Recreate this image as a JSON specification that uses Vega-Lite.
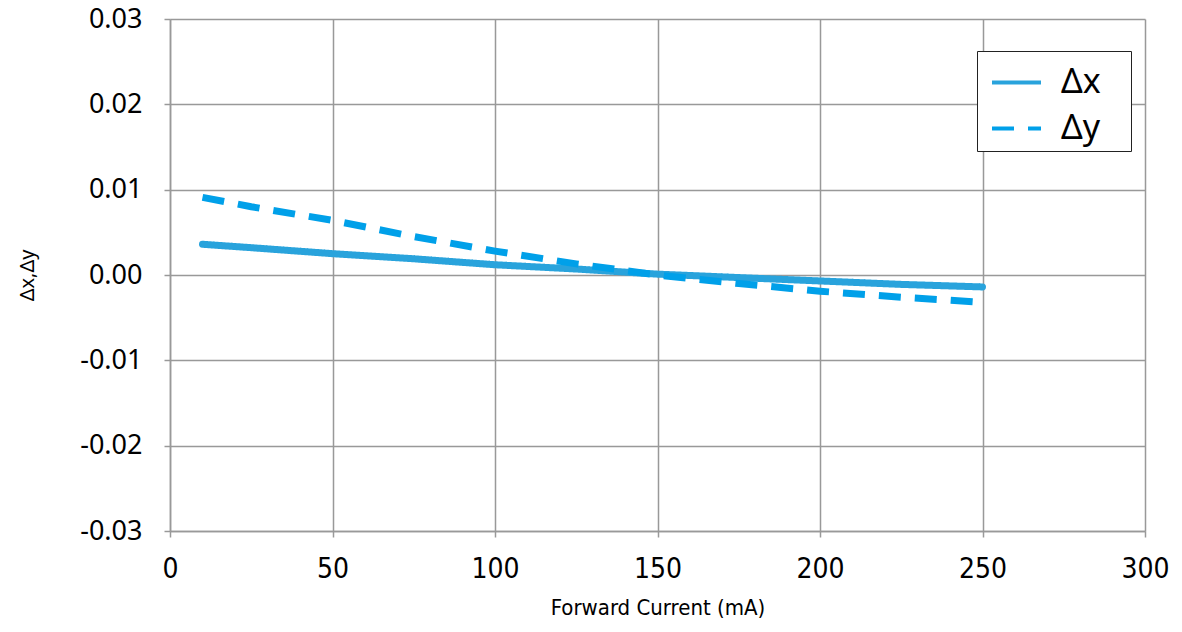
{
  "$schema": "https://vega.github.io/schema/vega-lite/v6.json",
  "autosize": "none",
  "width": 975,
  "height": 512,
  "padding": {"left": 170, "top": 19, "right": 37, "bottom": 101},
  "background": "white",
  "config": {"view": {"stroke": null}},
  "data": {"values": [
    {"current": 10, "value": 0.0036, "series": "Δx"},
    {"current": 25, "value": 0.0032, "series": "Δx"},
    {"current": 50, "value": 0.0025, "series": "Δx"},
    {"current": 75, "value": 0.0019, "series": "Δx"},
    {"current": 100, "value": 0.0012, "series": "Δx"},
    {"current": 125, "value": 0.0007, "series": "Δx"},
    {"current": 150, "value": 0.0001, "series": "Δx"},
    {"current": 175, "value": -0.0003, "series": "Δx"},
    {"current": 200, "value": -0.0007, "series": "Δx"},
    {"current": 225, "value": -0.0011, "series": "Δx"},
    {"current": 250, "value": -0.0014, "series": "Δx"},
    {"current": 10, "value": 0.0091, "series": "Δy"},
    {"current": 25, "value": 0.0080, "series": "Δy"},
    {"current": 50, "value": 0.0064, "series": "Δy"},
    {"current": 75, "value": 0.0045, "series": "Δy"},
    {"current": 100, "value": 0.0028, "series": "Δy"},
    {"current": 125, "value": 0.0013, "series": "Δy"},
    {"current": 150, "value": 0.0000, "series": "Δy"},
    {"current": 175, "value": -0.0010, "series": "Δy"},
    {"current": 200, "value": -0.0019, "series": "Δy"},
    {"current": 225, "value": -0.0026, "series": "Δy"},
    {"current": 250, "value": -0.0032, "series": "Δy"}
  ]},
  "encoding": {
    "x": {
      "field": "current", "type": "quantitative",
      "scale": {"domain": [0, 300], "nice": false, "zero": false},
      "axis": {
        "values": [0, 50, 100, 150, 200, 250, 300],
        "title": "Forward Current (mA)",
        "titleFont": "DejaVu Sans Condensed, Noto Sans", "titleFontSize": 22, "titleFontWeight": "normal", "titleColor": "#000",
        "titlePadding": 14,
        "labelFont": "DejaVu Sans Condensed, Noto Sans", "labelFontSize": 28, "labelColor": "#000", "labelPadding": 18,
        "labelFlush": false,
        "grid": true, "gridColor": "#999", "gridWidth": 1.5,
        "domainColor": "#999", "domainWidth": 1.5,
        "tickColor": "#999", "tickSize": 6, "tickWidth": 1.5
      }
    },
    "y": {
      "field": "value", "type": "quantitative",
      "scale": {"domain": [-0.03, 0.03], "nice": false, "zero": false},
      "axis": {
        "values": [-0.03, -0.02, -0.01, 0, 0.01, 0.02, 0.03],
        "labelExpr": "(datum.value < -0.000001 ? '-' : '') + format(abs(datum.value), '.2f')",
        "title": "Δx,Δy",
        "titleFont": "Noto Sans", "titleFontSize": 20, "titleFontWeight": "normal", "titleColor": "#000",
        "titlePadding": 42,
        "labelFont": "Noto Sans", "labelFontSize": 27, "labelColor": "#000", "labelPadding": 22,
        "labelFlush": false,
        "grid": true, "gridColor": "#999", "gridWidth": 1.5,
        "domainColor": "#999", "domainWidth": 1.5,
        "tickColor": "#999", "tickSize": 6, "tickWidth": 1.5
      }
    },
    "color": {
      "field": "series", "type": "nominal",
      "scale": {"domain": ["Δx", "Δy"], "range": ["#29a3dc", "#00a0e9"]},
      "legend": {
        "title": null, "orient": "none", "legendX": 807, "legendY": 32,
        "symbolType": "stroke", "symbolSize": 2400, "symbolStrokeWidth": 4, "symbolOffset": 8,
        "labelFont": "Noto Sans", "labelFontSize": 34, "labelColor": "#000",
        "labelExpr": "datum.label + '\u2800'",
        "labelOffset": 18, "rowPadding": 2,
        "fillColor": "white", "strokeColor": "#222", "padding": 5
      }
    },
    "strokeDash": {
      "field": "series", "type": "nominal",
      "scale": {"domain": ["Δx", "Δy"], "range": [[1, 0], [22, 14]]},
      "legend": {
        "title": null, "orient": "none", "legendX": 807, "legendY": 32,
        "symbolType": "stroke", "symbolSize": 2400, "symbolStrokeWidth": 4, "symbolOffset": 8,
        "labelFont": "Noto Sans", "labelFontSize": 34, "labelColor": "#000",
        "labelExpr": "datum.label + '\u2800'",
        "labelOffset": 18, "rowPadding": 2,
        "fillColor": "white", "strokeColor": "#222", "padding": 5
      }
    }
  },
  "layer": [
    {
      "transform": [{"filter": "datum.series === 'Δx'"}],
      "mark": {"type": "line", "strokeWidth": 7, "strokeCap": "round", "strokeJoin": "round"}
    },
    {
      "transform": [{"filter": "datum.series === 'Δy'"}],
      "mark": {"type": "line", "strokeWidth": 7, "strokeCap": "butt", "strokeJoin": "round"}
    }
  ]
}
